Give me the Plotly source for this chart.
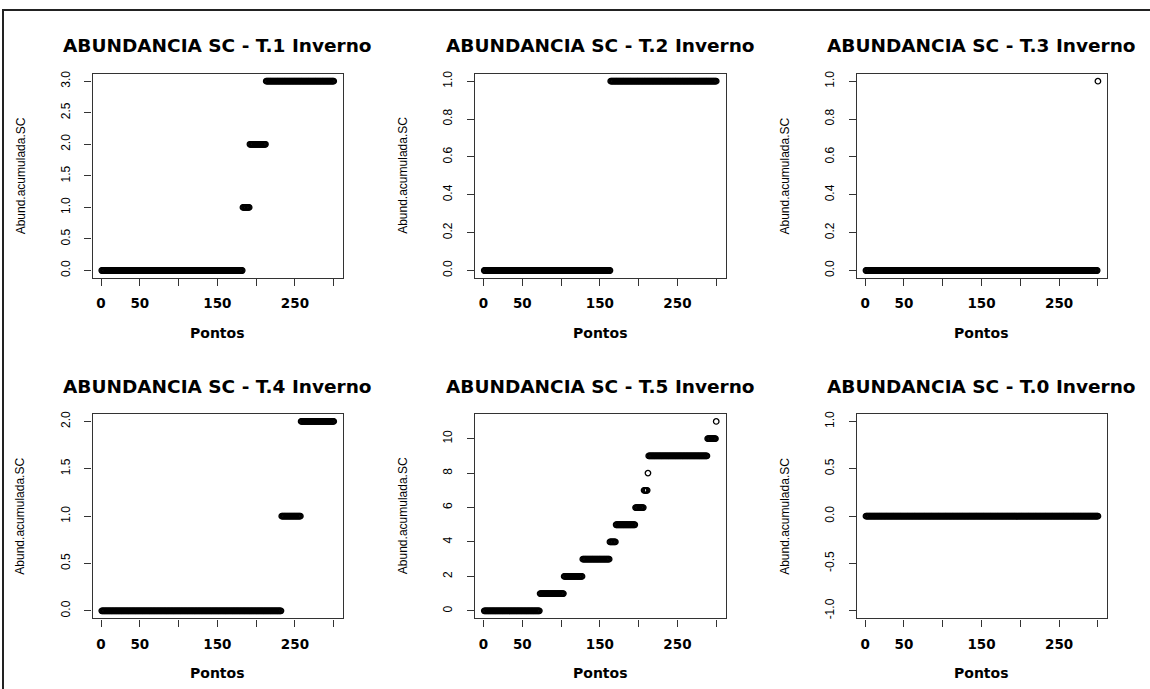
import numpy as np
import plotly.graph_objects as go

# ---------------- data ----------------
N_POINTS = 300

panel_titles = [
    "ABUNDANCIA SC - T.1 Inverno",
    "ABUNDANCIA SC - T.2 Inverno",
    "ABUNDANCIA SC - T.3 Inverno",
    "ABUNDANCIA SC - T.4 Inverno",
    "ABUNDANCIA SC - T.5 Inverno",
    "ABUNDANCIA SC - T.0 Inverno",
]

# cumulative abundance levels and the last "Ponto" at which each level holds
t1_levels = [0, 1, 2, 3]
t1_last = [182, 191, 212, 300]
t2_levels = [0, 1]
t2_last = [163, 300]
t3_levels = [0, 1]
t3_last = [299, 300]
t4_levels = [0, 1, 2]
t4_last = [232, 257, 300]
t5_levels = [0, 1, 2, 3, 4, 5, 6, 7, 8, 9, 10, 11]
t5_last = [72, 103, 127, 162, 170, 195, 206, 211, 212, 288, 299, 300]
t0_levels = [0]
t0_last = [300]

x_tickvals = [0, 50, 100, 150, 200, 250, 300]
x_ticktext = ["0", "50", "", "150", "", "250", ""]

y_ticks = [
    ([0, 0.5, 1, 1.5, 2, 2.5, 3], ["0.0", "0.5", "1.0", "1.5", "2.0", "2.5", "3.0"]),
    ([0, 0.2, 0.4, 0.6, 0.8, 1], ["0.0", "0.2", "0.4", "0.6", "0.8", "1.0"]),
    ([0, 0.2, 0.4, 0.6, 0.8, 1], ["0.0", "0.2", "0.4", "0.6", "0.8", "1.0"]),
    ([0, 0.5, 1, 1.5, 2], ["0.0", "0.5", "1.0", "1.5", "2.0"]),
    ([0, 2, 4, 6, 8, 10], ["0", "2", "4", "6", "8", "10"]),
    ([-1, -0.5, 0, 0.5, 1], ["-1.0", "-0.5", "0.0", "0.5", "1.0"]),
]
y_limits = [(0, 3), (0, 1), (0, 1), (0, 2), (0, 11), (-1, 1)]

series = [
    (t1_levels, t1_last),
    (t2_levels, t2_last),
    (t3_levels, t3_last),
    (t4_levels, t4_last),
    (t5_levels, t5_last),
    (t0_levels, t0_last),
]


def build_series(levels, last):
    x = np.arange(1, N_POINTS + 1)
    y = np.empty(N_POINTS)
    start = 0
    for lev, end in zip(levels, last):
        y[start:end] = lev
        start = end
    return x, y


# ---------------- layout geometry (pixels) ----------------
W, H = 1150, 689
col_left = [92.5, 475.0, 856.7]
box_w = 250.5
row_top = [71.0, 413.3]
box_h = 205.7

fig = go.Figure()
annotations = []
layout_axes = {}

AX_COLOR = "#333333"

for i in range(6):
    r, c = divmod(i, 3)
    x0 = col_left[c]
    x1 = x0 + box_w
    yt = row_top[r]
    yb = yt + box_h
    xd = [x0 / W, x1 / W]
    yd = [1 - yb / H, 1 - yt / H]

    xs, ys = build_series(*series[i])
    n = i + 1
    xa = "x" if n == 1 else f"x{n}"
    ya = "y" if n == 1 else f"y{n}"
    fig.add_trace(go.Scatter(
        x=xs, y=ys, mode="markers", xaxis=xa, yaxis=ya,
        marker=dict(symbol="circle-open", size=5.5, color="black",
                    line=dict(color="black", width=1.3)),
        showlegend=False, hoverinfo="x+y",
    ))

    xmin, xmax = 1, N_POINTS
    dx = 0.04 * (xmax - xmin)
    ylo, yhi = y_limits[i]
    dy = 0.04 * (yhi - ylo)

    xkey = "xaxis" if n == 1 else f"xaxis{n}"
    ykey = "yaxis" if n == 1 else f"yaxis{n}"
    layout_axes[xkey] = dict(
        domain=xd, anchor=ya, range=[xmin - dx, xmax + dx],
        tickvals=x_tickvals, ticktext=x_ticktext,
        ticks="outside", ticklen=7, tickwidth=1.2, tickcolor=AX_COLOR,
        showline=True, mirror=True, linecolor=AX_COLOR, linewidth=1.3,
        showgrid=False, zeroline=False, ticklabelstandoff=6,
        tickfont=dict(family="DejaVu Sans", size=13.5, color="black", weight="bold"),
    )
    layout_axes[ykey] = dict(
        domain=yd, anchor=xa, range=[ylo - dy, yhi + dy],
        tickvals=y_ticks[i][0], ticktext=y_ticks[i][1], tickangle=-90,
        ticks="outside", ticklen=7, tickwidth=1.2, tickcolor=AX_COLOR,
        showline=True, mirror=True, linecolor=AX_COLOR, linewidth=1.3,
        showgrid=False, zeroline=False, ticklabelstandoff=10,
        tickfont=dict(family="Liberation Sans", size=12, color="black"),
    )

    xc = (x0 + x1) / 2
    # panel title
    annotations.append(dict(
        text=panel_titles[i], xref="paper", yref="paper",
        x=xc / W, y=1 - (yt - 28) / H, xanchor="center", yanchor="middle",
        showarrow=False,
        font=dict(family="DejaVu Sans", size=18.5, color="black", weight="bold"),
    ))
    # x axis title
    annotations.append(dict(
        text="Pontos", xref="paper", yref="paper",
        x=xc / W, y=1 - (yb + 55) / H, xanchor="center", yanchor="middle",
        showarrow=False,
        font=dict(family="DejaVu Sans", size=14, color="black", weight="bold"),
    ))
    # y axis title
    annotations.append(dict(
        text="Abund.acumulada.SC", xref="paper", yref="paper",
        x=(x0 - 72) / W, y=1 - ((yt + yb) / 2) / H, xanchor="center", yanchor="middle",
        textangle=-90, showarrow=False,
        font=dict(family="Liberation Sans", size=12, color="black"),
    ))

fig.update_layout(
    width=W, height=H,
    margin=dict(l=0, r=0, t=0, b=0),
    paper_bgcolor="white", plot_bgcolor="white",
    annotations=annotations,
    shapes=[dict(type="rect", xref="paper", yref="paper",
                 x0=3 / W, x1=1.02, y0=-0.02, y1=1 - 7 / H,
                 line=dict(color="#222222", width=2))],
    **layout_axes,
)

fig.write_html(
    "out.html",
    config={"displayModeBar": False},
    post_script="document.body.style.margin='0';document.body.style.overflow='hidden';",
)
